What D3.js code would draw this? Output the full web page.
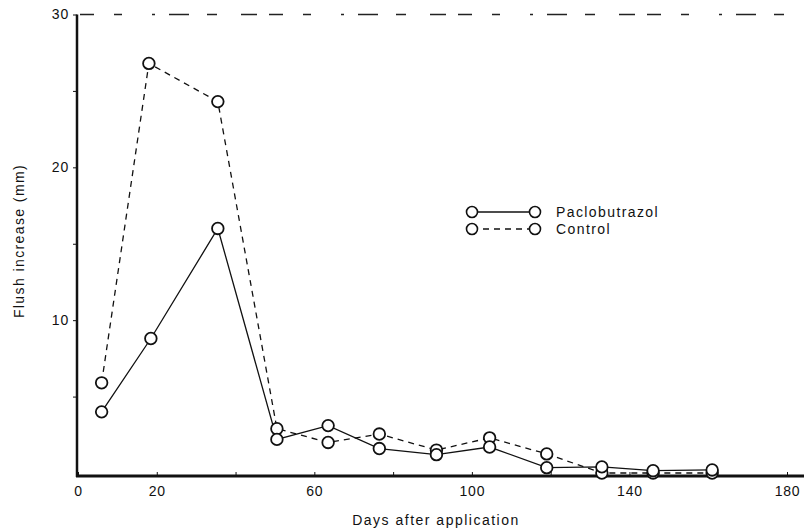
<!DOCTYPE html>
<html>
<head>
<meta charset="utf-8">
<script src="https://cdn.jsdelivr.net/npm/d3@7"></script>
<style>
  body { margin: 0; background: #fff; }
  svg { display: block; font-family: "Liberation Sans", Arial, sans-serif; }
</style>
</head>
<body>
<svg id="chart" width="804" height="531"></svg>
<script>
// values
const paclDays = [6, 18.5, 35.5, 50.5, 63.5, 76.5, 91, 104.5, 119, 133, 146, 161];
const paclValues = [4.0, 8.8, 16.0, 2.2, 3.1, 1.6, 1.2, 1.7, 0.35, 0.4, 0.15, 0.2];
const ctrlDays = [6, 18, 35.5, 50.5, 63.5, 76.5, 91, 104.5, 119, 133, 146, 161];
const ctrlValues = [5.9, 26.8, 24.3, 2.9, 2.0, 2.55, 1.5, 2.3, 1.25, 0, 0, 0];
const xTickValues = [0, 20, 40, 60, 80, 100, 120, 140, 160, 180];
const xTickLabels = [0, 20, 60, 100, 140, 180];
const yTickValues = [5, 10, 15, 20, 25, 30];
const yTickLabels = [10, 20, 30];

const svg = d3.select('#chart');

const xScale = d3.scaleLinear().domain([0, 180]).range([78, 787]);
const yScale = d3.scaleLinear().domain([0, 30]).range([473, 14.5]);

//#region axes
const xAxis = d3.axisBottom(xScale)
    .tickValues(xTickValues)
    .tickSize(-4)
    .tickFormat(d => xTickLabels.includes(d) ? d : '');
const gx = svg.append('g')
    .attr('transform', 'translate(0,476)')
    .call(xAxis);
gx.select('.domain').remove();
gx.selectAll('.tick line').attr('stroke', '#111').attr('stroke-width', 1);
gx.selectAll('.tick text')
    .attr('y', 10)
    .attr('font-size', 14)
    .attr('letter-spacing', 0.8)
    .attr('fill', '#111');

const yAxis = d3.axisLeft(yScale)
    .tickValues(yTickValues)
    .tickSize(4)
    .tickFormat(d => yTickLabels.includes(d) ? d : '');
const gy = svg.append('g')
    .attr('transform', 'translate(77,0)')
    .call(yAxis);
gy.select('.domain').remove();
gy.selectAll('.tick line').attr('stroke', '#111').attr('stroke-width', 1);
gy.selectAll('.tick text')
    .attr('x', -8)
    .attr('font-size', 14)
    .attr('letter-spacing', 0.8)
    .attr('fill', '#111');

// thick axis lines
svg.append('line')
    .attr('x1', 76).attr('x2', 804)
    .attr('y1', 476).attr('y2', 476)
    .attr('stroke', '#111').attr('stroke-width', 3);
svg.append('line')
    .attr('x1', 77).attr('x2', 77)
    .attr('y1', yScale(30)).attr('y2', 477)
    .attr('stroke', '#111').attr('stroke-width', 2.5);

// broken top frame
svg.append('line')
    .attr('x1', 80).attr('x2', 800)
    .attr('y1', yScale(30)).attr('y2', yScale(30))
    .attr('stroke', '#222').attr('stroke-width', 1.3)
    .attr('stroke-dasharray', '14,20,8,30,3,14,20,18,10,24,16,12');

svg.append('text')
    .attr('transform', `translate(24,241) rotate(-90)`)
    .attr('text-anchor', 'middle')
    .attr('font-size', 14)
    .attr('letter-spacing', 1.4)
    .attr('fill', '#111')
    .text('Flush increase (mm)');

svg.append('text')
    .attr('x', 436).attr('y', 525)
    .attr('text-anchor', 'middle')
    .attr('font-size', 14)
    .attr('letter-spacing', 1.5)
    .attr('fill', '#111')
    .text('Days after application');
//#endregion

//#region series
const line = d3.line()
    .x(d => xScale(d.day))
    .y(d => yScale(d.value));

const ctrl = ctrlDays.map((day, i) => ({ day, value: ctrlValues[i] }));
const pacl = paclDays.map((day, i) => ({ day, value: paclValues[i] }));

const series = [
    { data: ctrl, dash: '6,5' },
    { data: pacl, dash: null }
];

series.forEach(s => {
    svg.append('path')
        .datum(s.data)
        .attr('d', line)
        .attr('fill', 'none')
        .attr('stroke', '#111')
        .attr('stroke-width', 1.3)
        .attr('stroke-dasharray', s.dash);
});

series.forEach(s => {
    svg.append('g').selectAll('circle')
        .data(s.data)
        .join('circle')
        .attr('cx', d => xScale(d.day))
        .attr('cy', d => yScale(d.value))
        .attr('r', 5.8)
        .attr('fill', '#fff')
        .attr('stroke', '#111')
        .attr('stroke-width', 1.8);
});
//#endregion

//#region legend
const legendItems = [
    { label: 'Paclobutrazol', dash: null, y: 212 },
    { label: 'Control', dash: '6,5', y: 229 }
];
const legend = svg.append('g');
legendItems.forEach(item => {
    legend.append('line')
        .attr('x1', 472).attr('x2', 535)
        .attr('y1', item.y).attr('y2', item.y)
        .attr('stroke', '#111').attr('stroke-width', 1.3)
        .attr('stroke-dasharray', item.dash);
    [472, 535].forEach(cx => {
        legend.append('circle')
            .attr('cx', cx).attr('cy', item.y).attr('r', 5.5)
            .attr('fill', '#fff').attr('stroke', '#111').attr('stroke-width', 1.6);
    });
    legend.append('text')
        .attr('x', 556).attr('y', item.y + 5)
        .attr('font-size', 14)
        .attr('letter-spacing', 1.4)
        .attr('fill', '#111')
        .text(item.label);
});
//#endregion
</script>
</body>
</html>
